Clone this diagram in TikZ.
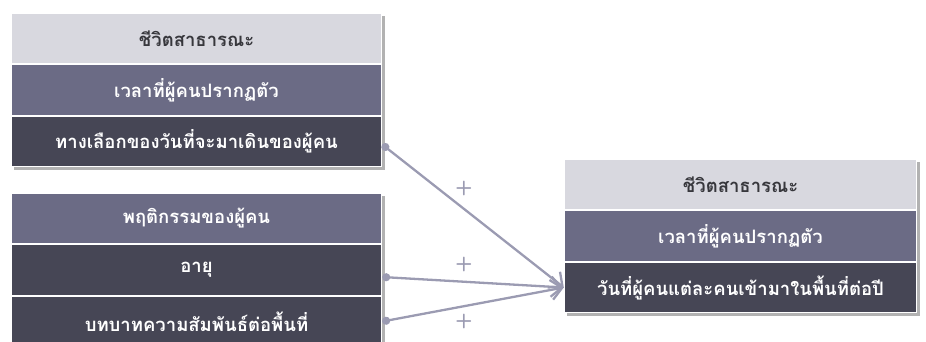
\documentclass[tikz,border=0pt]{standalone}
\usepackage{fontspec}
\usepackage{tikz}
\newfontfamily\thaifont[Script=Thai]{Loma}
\definecolor{rowlight}{RGB}{216, 216, 223}
\definecolor{rowmid}{RGB}{107, 107, 133}
\definecolor{rowdark}{RGB}{70, 70, 85}
\definecolor{linkcol}{RGB}{155, 155, 178}
\definecolor{textdark}{RGB}{55, 55, 60}
\usetikzlibrary{arrows.meta, positioning, fit, backgrounds, shadows}

\begin{document}
\begin{tikzpicture}[
    x=1pt, y=-1pt,
    row/.style={draw=white, line width=1.2pt, minimum height=50.3pt,
                inner sep=0pt, font=\thaifont\bfseries\fontsize{18.5}{20}\selectfont},
    lightrow/.style={row, fill=rowlight, text=textdark},
    midrow/.style={row, fill=rowmid, text=white},
    darkrow/.style={row, fill=rowdark, text=white},
    group/.style={inner sep=0pt, fill=white, drop shadow={shadow xshift=3pt,
                  shadow yshift=-3pt, opacity=0.3, fill=black}},
    link/.style={draw=linkcol, line width=2.3pt,
                 {Circle[length=8pt]}-{Straight Barb[length=11pt, width=20pt]}},
    plus/.style={text=linkcol, font=\sffamily\bfseries\fontsize{20}{20}\selectfont}
]
    \useasboundingbox (0,0) rectangle (926,341);

    % Left top box
    \node[lightrow, minimum width=370.2pt] (pubA) at (196.5,38.5) {ชีวิตสาธารณะ};
    \node[midrow, minimum width=370.2pt] (timeA) at (196.5,90) {เวลาที่ผู้คนปรากฏตัว};
    \node[darkrow, minimum width=370.2pt] (choice) at (196.5,141.5) {ทางเลือกของวันที่จะมาเดินของผู้คน};

    % Left bottom box
    \node[midrow, minimum width=370.2pt] (behave) at (196.5,218.5) {พฤติกรรมของผู้คน};
    \node[darkrow, minimum width=370.2pt] (age) at (196.5,270) {อายุ};
    \node[darkrow, minimum width=370.2pt] (role) at (196.5,321.5) {บทบาทความสัมพันธ์ต่อพื้นที่};

    % Right box
    \node[lightrow, minimum width=352.2pt] (pubB) at (740.5,184.5) {ชีวิตสาธารณะ};
    \node[midrow, minimum width=352.2pt] (timeB) at (740.5,236) {เวลาที่ผู้คนปรากฏตัว};
    \node[darkrow, minimum width=352.2pt] (visits) at (740.5,287.5) {วันที่ผู้คนแต่ละคนเข้ามาในพื้นที่ต่อปี};

    % Shadows behind the boxes
    \begin{scope}[on background layer]
        \node[group, fit=(pubA)(choice)] {};
        \node[group, fit=(behave)(role)] {};
        \node[group, fit=(pubB)(visits)] {};
    \end{scope}

    % Connectors
    \draw[link] ([yshift=-3pt]choice.east) -- (visits.west)
        node[plus, pos=0.45, above=9pt] {+};
    \draw[link] ([yshift=-7pt]age.east) -- (visits.west)
        node[plus, pos=0.45, above=5pt] {+};
    \draw[link] (role.east) -- (visits.west)
        node[plus, pos=0.45, below=3pt] {+};
\end{tikzpicture}
\end{document}
